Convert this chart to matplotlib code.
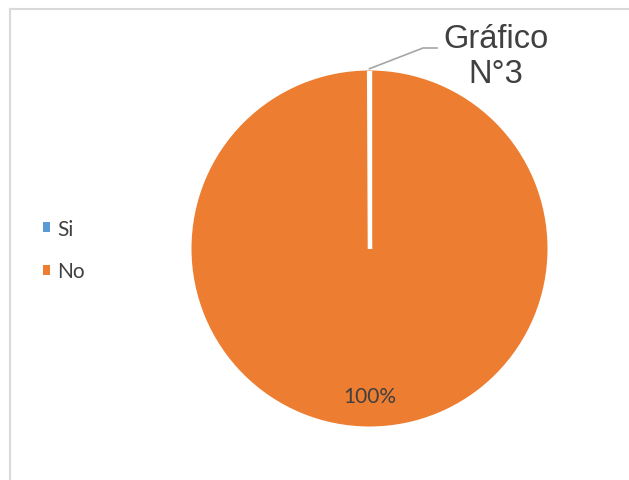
import matplotlib
matplotlib.use("Agg")
import matplotlib.pyplot as plt
from matplotlib.patches import Patch
import numpy as np

categories = ["Si", "No"]
values = [0, 100]
colors = ["#5B9BD5", "#ED7D31"]
title_label = "Gráfico\nN°3"

W, H = 629, 481
fig = plt.figure(figsize=(W / 100, H / 100), dpi=100)
fig.patch.set_facecolor("white")

# chart border (light gray), top and left visible
fig.add_artist(plt.Line2D([10 / W, 1.0], [1 - 10 / H, 1 - 10 / H], color="#D9D9D9", lw=1.5))
fig.add_artist(plt.Line2D([10 / W, 10 / W], [0, 1 - 10 / H], color="#D9D9D9", lw=1.5))

cx, cy, r = 369.5, 249.5, 178
ax = fig.add_axes([(cx - r) / W, (H - cy - r) / H, 2 * r / W, 2 * r / H])

total = sum(values)
wedges, _ = ax.pie(values, colors=colors, startangle=90, counterclock=False,
                   radius=1, wedgeprops=dict(linewidth=0))
ax.set_xlim(-1, 1)
ax.set_ylim(-1, 1)
ax.set_aspect("equal")
ax.axis("off")

# white borders between wedges (from the wedge angles)
for w in wedges:
    for th in (w.theta1, w.theta2):
        t = np.deg2rad(th)
        ax.plot([0, np.cos(t)], [0, np.sin(t)], color="white", lw=3,
                solid_capstyle="butt", zorder=3)

# percentage labels
for w, v in zip(wedges, values):
    if v == 0:
        continue
    if abs(w.theta2 - w.theta1) >= 359.99:
        mid = w.theta1 - 180
    else:
        mid = (w.theta1 + w.theta2) / 2
    t = np.deg2rad(mid)
    ax.text(0.83 * np.cos(t), 0.83 * np.sin(t), f"{v / total * 100:.0f}%",
            ha="center", va="center", fontsize=15, color="#404040",
            family="Lato", zorder=4)

# label of the zero slice with leader line
zw = wedges[0]
t0 = np.deg2rad(zw.theta1)
p0 = (np.cos(t0), np.sin(t0) * 1.01)
knee = ((423 - cx) / r, (cy - 49) / r)
end = ((437 - cx) / r, (cy - 49) / r)
ax.plot([p0[0], knee[0], end[0]], [p0[1], knee[1], end[1]], color="#A6A6A6",
        lw=1.2, clip_on=False, zorder=5)
ax.text((496 - cx) / r, (cy - 57) / r, title_label, ha="center", va="center",
        fontsize=23.5, color="#404040", family="Liberation Sans",
        linespacing=1.18, clip_on=False)

# legend
handles = [Patch(facecolor=c, edgecolor="none") for c in colors]
leg = fig.legend(handles, categories, loc="center left",
                 bbox_to_anchor=(43 / W, 1 - 251 / H), frameon=False,
                 borderpad=0, borderaxespad=0,
                 handlelength=0.32, handleheight=0.32, handletextpad=0.35,
                 labelspacing=1.1, prop=dict(family="Lato", size=15))
for t in leg.get_texts():
    t.set_color("#404040")

fig.savefig("out.png", dpi=100, facecolor="white")
